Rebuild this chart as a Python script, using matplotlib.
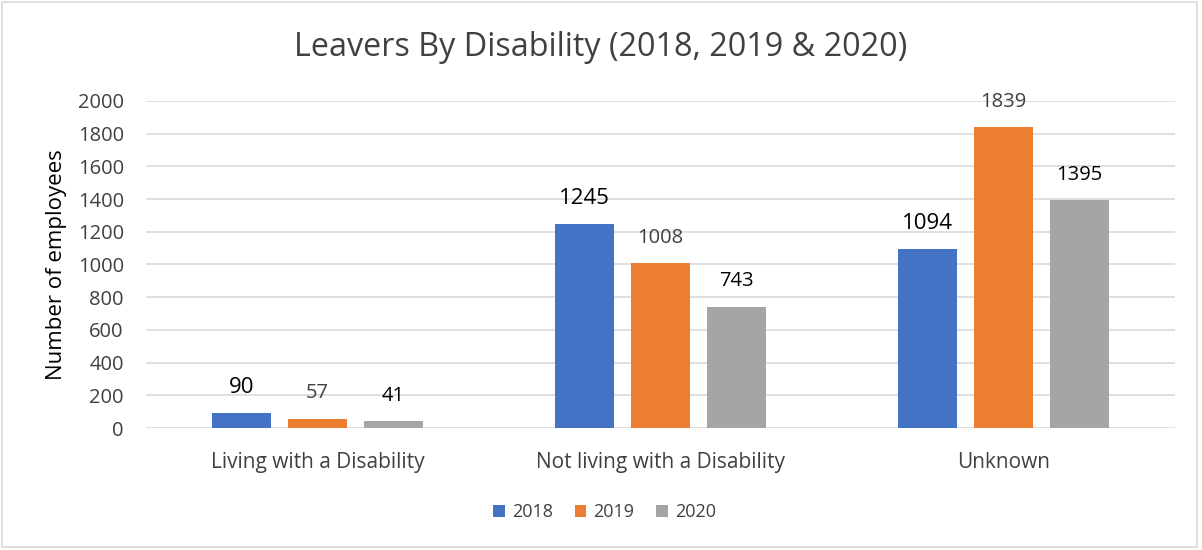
import matplotlib.pyplot as plt
import numpy as np

categories = ["Living with a Disability", "Not living with a Disability", "Unknown"]
years = ["2018", "2019", "2020"]
values_2018 = [90, 1245, 1094]
values_2019 = [57, 1008, 1839]
values_2020 = [41, 743, 1395]

colors = ["#4472C4", "#ED7D31", "#A5A5A5"]
label_colors = ["black", "#404040", "black"]
label_sizes = [16, 14.5, 14.5]
text_color = "#404040"

plt.rcParams['font.family'] = ['Open Sans', 'DejaVu Sans']

fig = plt.figure(figsize=(12.02, 5.5), dpi=100)
ax = fig.add_axes([0.1215, 0.2218, 0.856, 0.5946])

x = np.arange(len(categories))
width = 0.172
step = 0.222
series = [values_2018, values_2019, values_2020]

for i, (vals, col, yr) in enumerate(zip(series, colors, years)):
    bars = ax.bar(x + (i - 1) * step, vals, width, color=col, label=yr, zorder=3)
    for b, v in zip(bars, vals):
        ax.annotate(str(v), (b.get_x() + b.get_width() / 2, v),
                    xytext=(0, 11), textcoords="offset points",
                    ha="center", va="bottom",
                    fontsize=label_sizes[i], color=label_colors[i])

ax.set_xlim(-0.5, 2.5)
ax.set_ylim(0, 2000)
ax.set_yticks(range(0, 2001, 200))
ax.yaxis.grid(True, color="#D9D9D9", linewidth=1.2, zorder=0)
for s in ax.spines.values():
    s.set_visible(False)
ax.tick_params(axis="both", length=0, labelsize=14.5, labelcolor=text_color)
ax.tick_params(axis="y", pad=16)
ax.tick_params(axis="x", pad=17, labelsize=15)
ax.set_xticks(x)
ax.set_xticklabels(categories)
ax.set_ylabel("Number of employees", fontsize=16, color="black", labelpad=8)

fig.suptitle("Leavers By Disability (2018, 2019 & 2020)", y=0.913, va="center",
             fontsize=23.3, color=text_color)

fig.legend(loc="center", bbox_to_anchor=(0.503, 0.069), ncol=3, frameon=False,
           fontsize=13, handlelength=0.65, handleheight=0.65, handletextpad=0.4,
           columnspacing=1.2, labelcolor=text_color)

# outer chart border
fig.add_artist(plt.Rectangle((0.002, 0.006), 0.994, 0.99, transform=fig.transFigure,
                             fill=False, edgecolor="#D9D9D9", linewidth=1.2))

fig.savefig("out.png", dpi=100)
